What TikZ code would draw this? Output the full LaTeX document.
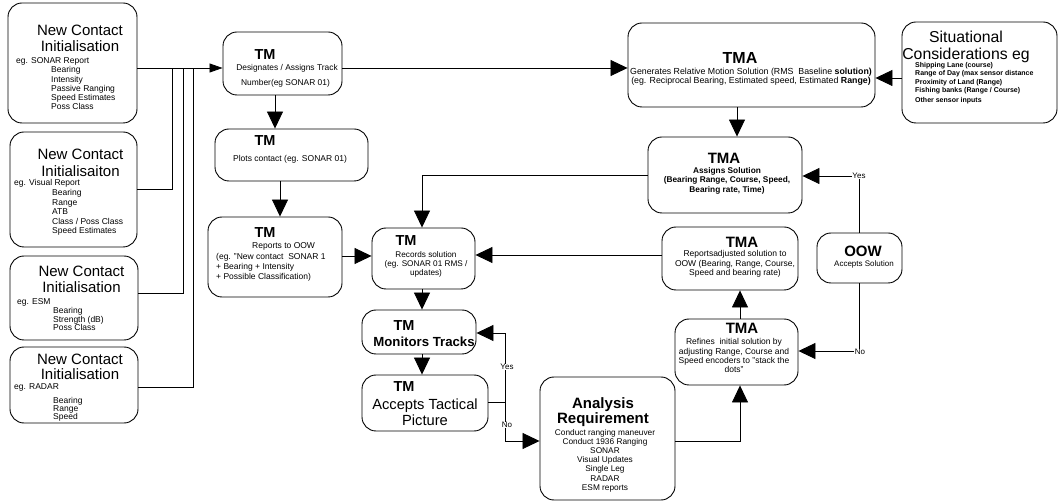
\documentclass[tikz,border=0pt]{standalone}
\usepackage{fontspec}
\setmainfont{Liberation Sans}
\usetikzlibrary{arrows.meta}
\newcommand\myfs[2]{\fontsize{#1}{#2}\selectfont}
\begin{document}
\begin{tikzpicture}[x=1pt,y=-1pt,
 box/.style={draw, rounded corners=14pt, line width=0.9pt, inner sep=0pt},
 txt/.style={inner sep=0pt, align=center},
 ln/.style={line width=0.8pt},
 arr/.style={ln, -{Triangle[length=17pt,width=16pt]}},
 sarr/.style={ln, -{Triangle[length=13pt,width=9pt]}},
 lab/.style={inner sep=0.6pt, fill=white, font=\myfs{8}{9}},
]
\useasboundingbox (0,0) rectangle (1058,502);
% ---------- boxes
\node[box, minimum width=129pt, minimum height=120pt] (nc1) at (72.5,63) {};
\node[box, minimum width=127pt, minimum height=115pt] (nc2) at (73.5,189.5) {};
\node[box, minimum width=128pt, minimum height=84pt] (nc3) at (74,298) {};
\node[box, minimum width=128pt, minimum height=76pt] (nc4) at (74,385) {};
\node[box, minimum width=119pt, minimum height=63pt] (tm1) at (282.5,63.5) {};
\node[box, minimum width=153pt, minimum height=52pt] (tm2) at (291.5,155) {};
\node[box, minimum width=134pt, minimum height=80pt] (tm3) at (275,257) {};
\node[box, minimum width=103pt, minimum height=61pt] (tm4) at (423.5,258.5) {};
\node[box, minimum width=114pt, minimum height=44pt] (tm5) at (419,332) {};
\node[box, minimum width=126pt, minimum height=56pt] (tm6) at (425,403) {};
\node[box, minimum width=135pt, minimum height=123pt] (an) at (607.5,438.5) {};
\node[box, minimum width=247pt, minimum height=84pt] (tma1) at (751.5,65) {};
\node[box, minimum width=155pt, minimum height=101pt] (sit) at (979.5,72.5) {};
\node[box, minimum width=154pt, minimum height=76pt] (tma3) at (725,175) {};
\node[box, minimum width=136pt, minimum height=63pt] (tma4) at (730,258.5) {};
\node[box, minimum width=85pt, minimum height=50pt] (oow) at (859.5,258) {};
\node[box, minimum width=123pt, minimum height=66pt] (tma5) at (736.5,352) {};
% ---------- texts: new contact boxes
\node[txt, anchor=north, font=\myfs{15}{16}] (nc1t) at (80,25) {New Contact\\Initialisation};
\node[txt, anchor=north west, align=left, font=\myfs{8.5}{9.2}] (nc1d) at (16,57.6)
 {eg. SONAR Report\\\hspace*{35pt}Bearing\\\hspace*{35pt}Intensity\\\hspace*{35pt}Passive Ranging\\\hspace*{35pt}Speed Estimates\\\hspace*{35pt}Poss Class};
\node[txt, anchor=north, font=\myfs{15}{17}] (nc2t) at (80.5,149) {New Contact\\Initialisaiton};
\node[txt, anchor=north west, align=left, font=\myfs{8.5}{9.6}] (nc2d) at (14,179.6)
 {eg. Visual Report\\\hspace*{38pt}Bearing\\\hspace*{38pt}Range\\\hspace*{38pt}ATB\\\hspace*{38pt}Class / Poss Class\\\hspace*{38pt}Speed Estimates};
\node[txt, anchor=north, font=\myfs{15}{16}] (nc3t) at (81.5,266) {New Contact\\Initialisation};
\node[txt, anchor=north west, align=left, font=\myfs{8.5}{8.7}] (nc3d) at (17,298.6)
 {eg. ESM\\\hspace*{36pt}Bearing\\\hspace*{36pt}Strength (dB)\\\hspace*{36pt}Poss Class};
\node[txt, anchor=north, font=\myfs{15}{15.5}] (nc4t) at (80,353.5) {New Contact\\Initialisation};
\node[txt, anchor=north west, font=\myfs{8.5}{8}] (nc4e) at (14,383.5) {eg. RADAR};
\node[txt, anchor=north west, align=left, font=\myfs{8.5}{8}] (nc4d) at (53,397.6) {Bearing\\Range\\Speed};
% ---------- TM boxes
\node[txt, font=\bfseries\myfs{14.5}{15}] (tm1h) at (265,55) {TM};
\node[txt, font=\myfs{8.4}{9}] (tm1a) at (287,68) {Designates / Assigns Track};
\node[txt, font=\myfs{8.4}{9}] (tm1b) at (285.5,83) {Number(eg SONAR 01)};
\node[txt, font=\bfseries\myfs{14.5}{15}] (tm2h) at (265,141) {TM};
\node[txt, font=\myfs{8.5}{9}] (tm2a) at (290,159) {Plots contact (eg. SONAR 01)};
\node[txt, font=\bfseries\myfs{14.5}{15}] (tm3h) at (265,233) {TM};
\node[txt, anchor=west, font=\myfs{8.5}{9}] (tm3a) at (252,246) {Reports to OOW};
\node[txt, anchor=north west, align=left, font=\myfs{8.5}{10}] (tm3b) at (216,253.6)
 {(eg. "New contact\ \ SONAR 1\\+ Bearing + Intensity\\+ Possible Classification)};
\node[txt, font=\bfseries\myfs{14.5}{15}] (tm4h) at (406,241) {TM};
\node[txt, anchor=north, font=\myfs{8.2}{9}] (tm4a) at (426,251.8) {Records solution\\(eg. SONAR 01 RMS /\\updates)};
\node[txt, font=\bfseries\myfs{14.5}{15}] (tm5h) at (404,326) {TM};
\node[txt, font=\bfseries\myfs{13.2}{14}] (tm5a) at (424,342) {Monitors Tracks};
\node[txt, font=\bfseries\myfs{14.5}{15}] (tm6h) at (404,387) {TM};
\node[txt, anchor=north, font=\myfs{14.7}{16}] (tm6a) at (425,398.5) {Accepts Tactical\\Picture};
% ---------- analysis
\node[txt, anchor=north, font=\bfseries\myfs{15}{15}] (anh) at (603,397.4) {Analysis\\Requirement};
\node[txt, anchor=north, font=\myfs{8.3}{9.2}] (ana) at (605,428.8)
 {Conduct ranging maneuver\\Conduct 1936 Ranging\\SONAR\\Visual Updates\\Single Leg\\RADAR\\ESM reports};
% ---------- TMA boxes
\node[txt, font=\bfseries\myfs{16}{16}] (tma1h) at (740,58) {TMA};
\node[txt, anchor=north, font=\myfs{8.8}{9}] (tma1a) at (751,68)
 {Generates Relative Motion Solution (RMS\ \ Baseline \textbf{solution)}\\(eg. Reciprocal Bearing, Estimated speed, Estimated \textbf{Range)}};
\node[txt, anchor=north, font=\myfs{15.8}{16.5}] (sith) at (966,31) {Situational\\Considerations eg};
\node[txt, anchor=north west, align=left, font=\bfseries\myfs{7}{8.3}] (sita) at (915,62.2)
 {Shipping Lane (course)\\Range of Day (max sensor distance\\Proximity of Land (Range)\\Fishing banks (Range / Course)\\[1.7pt]Other sensor inputs};
\node[txt, font=\bfseries\myfs{15}{15}] (tma3h) at (724,158) {TMA};
\node[txt, anchor=north, font=\bfseries\myfs{8.3}{9.5}] (tma3a) at (727,166.8)
 {Assigns Solution\\(Bearing Range, Course, Speed,\\Bearing rate, Time)};
\node[txt, font=\bfseries\myfs{15}{15}] (tma4h) at (742,242) {TMA};
\node[txt, anchor=north, font=\myfs{8.5}{9.5}] (tma4a) at (735,250.6)
 {Reportsadjusted solution to\\OOW (Bearing, Range, Course,\\Speed and bearing rate)};
\node[txt, font=\bfseries\myfs{15}{15}] (tma5h) at (742,328) {TMA};
\node[txt, anchor=north, font=\myfs{8.5}{9.3}] (tma5a) at (734,338.6)
 {Refines\ \ initial solution by\\adjusting Range, Course and\\Speed encoders to "stack the\\dots"};
\node[txt, font=\bfseries\myfs{15}{15}] (oowh) at (863,251) {OOW};
\node[txt, font=\myfs{8}{9}] (oowa) at (864,264) {Accepts Solution};
% ---------- connectors
\coordinate (v2) at (172,68);
\coordinate (v3) at (183,68);
\coordinate (v4) at (193,68);
\draw[sarr] (nc1.east |- v4) -- (tm1.west |- v4);
\draw[ln] (nc2.east) -| (v2);
\draw[ln] (nc3.east |- 0,293) -| (v3);
\draw[ln] (nc4.east |- 0,387) -| (v4);
\draw[arr] (tm1.east |- v4) -- (tma1.west |- v4);
\draw[arr] (tm1.south -| 275,0) -- (tm2.north -| 275,0);
\draw[arr] (tm2.south -| 280,0) -- (tm3.north -| 280,0);
\draw[arr] (tm3.east |- 0,256) -- (tm4.west |- 0,256);
\draw[arr] (tma4.west |- 0,255) -- (tm4.east |- 0,255);
\draw[arr] (tma3.west) -| (tm4.north -| 422,0);
\draw[arr] (tm4.south -| 422,0) -- (tm5.north -| 422,0);
\draw[arr] (tm5.south -| 422,0) -- (tm6.north -| 422,0);
\coordinate (jn) at (505,402);
\draw[ln] (tm6.east |- jn) -- (jn);
\draw[arr] (jn) |- (tm5.east |- 0,333);
\draw[arr] (jn) |- (an.west |- 0,441);
\node[lab] (yes1) at (507,367) {Yes};
\node[lab] (no1) at (507,425) {No};
\draw[arr] (an.east |- 0,441) -| (tma5.south -| 740,0);
\draw[arr] (tma5.north -| 740,0) -- (tma4.south -| 740,0);
\draw[arr] (oow.north) |- (tma3.east |- 0,176);
\node[lab] (yes2) at (859,176) {Yes};
\draw[arr] (oow.south) |- (tma5.east |- 0,351);
\node[lab] (no2) at (860,352) {No};
\draw[arr] (tma1.south -| 737,0) -- (tma3.north -| 737,0);
\draw[arr] (sit.west |- 0,78) -- (tma1.east |- 0,78);
\end{tikzpicture}
\end{document}
